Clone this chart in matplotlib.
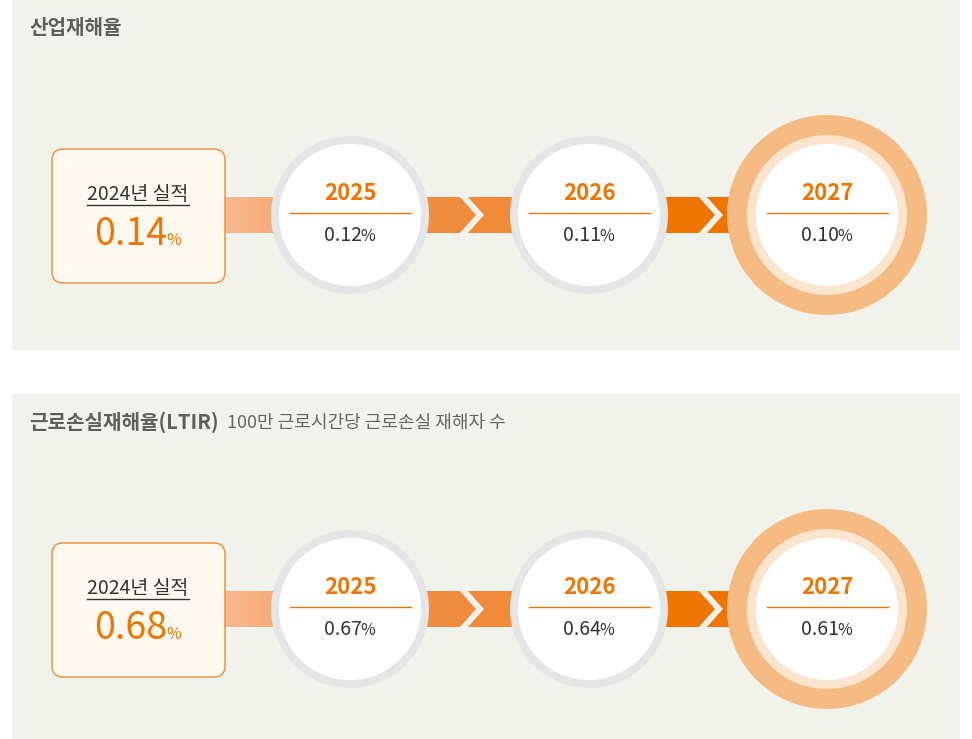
import matplotlib
matplotlib.use('Agg')
import matplotlib.pyplot as plt
import numpy as np
from matplotlib.patches import FancyBboxPatch, Circle, Rectangle, Polygon
from matplotlib.colors import LinearSegmentedColormap

plt.rcParams['font.family'] = ['Noto Sans CJK KR', 'DejaVu Sans']

# data
titles = ['산업재해율', '근로손실재해율(LTIR)']
subtitles = ['', '100만 근로시간당 근로손실 재해자 수']
base_label = '2024년 실적'
base_values = ['0.14', '0.68']
years = ['2025', '2026', '2027']
targets = [['0.12', '0.11', '0.10'],
           ['0.67', '0.64', '0.61']]

BG = '#f2f2ed'
ORANGE = '#ee7600'
DARK = '#333333'

fig = plt.figure(figsize=(9.72, 7.39), dpi=100)
ax = fig.add_axes([0, 0, 1, 1])
ax.set_xlim(0, 972)
ax.set_ylim(739, 0)
ax.axis('off')
renderer = fig.canvas.get_renderer()


def text_width(t):
    bb = t.get_window_extent(renderer=renderer)
    return bb.width  # pixels == data units here


def value_pct(x, y, num, size, pct_size, color):
    t1 = ax.text(0, y, num, fontsize=size, color=color, ha='left', va='baseline', zorder=10)
    t2 = ax.text(0, y, '%', fontsize=pct_size, color=color, ha='left', va='baseline', zorder=10)
    w1 = text_width(t1)
    w2 = text_width(t2)
    x0 = x - (w1 + w2) / 2
    t1.set_x(x0)
    t2.set_x(x0 + w1 - 1)


cmap1 = LinearSegmentedColormap.from_list('seg1', ['#f6b88f', '#f19a55'])
cmap2 = LinearSegmentedColormap.from_list('seg2', ['#f0924a', '#f0862e'])

panel_tops = [0, 394]
for i, top in enumerate(panel_tops):
    ax.add_patch(Rectangle((12, top), 948, 350 if i == 0 else 345, facecolor=BG, edgecolor='none', zorder=0))

    # title
    tt = ax.text(29, top + 28, titles[i], fontsize=14.5, fontweight='bold', color='#5e5e5e',
                 ha='left', va='center')
    if subtitles[i]:
        w = text_width(tt)
        ax.text(29 + w + 8, top + 29, subtitles[i], fontsize=13, color='#666666',
                ha='left', va='center')

    cy = top + 215
    cxs = [350, 589, 827]

    # connector bars
    g = np.linspace(0, 1, 256).reshape(1, -1)
    ax.imshow(g, cmap=cmap1, extent=[224, cxs[0], cy + 18, cy - 18], aspect='auto', zorder=1)
    ax.imshow(g, cmap=cmap2, extent=[cxs[0], cxs[1], cy + 18, cy - 18], aspect='auto', zorder=1)
    ax.add_patch(Rectangle((cxs[1], cy - 18), cxs[2] - cxs[1], 36, facecolor=ORANGE, edgecolor='none', zorder=1))
    for chx in [459, 698]:
        ax.add_patch(Polygon([(chx, cy - 19), (chx + 8, cy - 19), (chx + 25, cy),
                              (chx + 8, cy + 19), (chx, cy + 19), (chx + 17, cy)],
                             closed=True, facecolor=BG, edgecolor='none', zorder=2))

    # 2024 box
    ax.add_patch(FancyBboxPatch((52, cy - 66), 173, 134, boxstyle='round,pad=0,rounding_size=11',
                                facecolor='#fff9f2', edgecolor='#f08a30', linewidth=1.0, zorder=3))
    lt = ax.text(138, cy - 21, base_label, fontsize=14, color=DARK, ha='center', va='center', zorder=10)
    lw = text_width(lt)
    ax.plot([138 - lw / 2, 138 + lw / 2], [cy - 10, cy - 10], color=DARK, linewidth=1.0, zorder=10)
    value_pct(138, cy + 30, base_values[i], 27, 11.5, ORANGE)

    # target circles
    for j, cx in enumerate(cxs):
        if j < 2:
            ax.add_patch(Circle((cx, cy), 79, facecolor='#e6e6e6', edgecolor='none', zorder=4))
        else:
            ax.add_patch(Circle((cx, cy), 100, facecolor='#f6bb83', edgecolor='none', zorder=4))
            ax.add_patch(Circle((cx, cy), 80, facecolor='#fce5cf', edgecolor='none', zorder=4))
        ax.add_patch(Circle((cx, cy), 71, facecolor='white', edgecolor='none', zorder=5))
        ax.text(cx, cy - 22, years[j], fontsize=16, fontweight='bold', color=ORANGE,
                ha='center', va='center', zorder=10)
        ax.plot([cx - 60, cx + 61], [cy - 2, cy - 2], color=ORANGE, linewidth=1.0, zorder=10)
        value_pct(cx, cy + 26, targets[i][j], 14, 11.5, DARK)

fig.savefig('out.png', dpi=100, facecolor='white')
